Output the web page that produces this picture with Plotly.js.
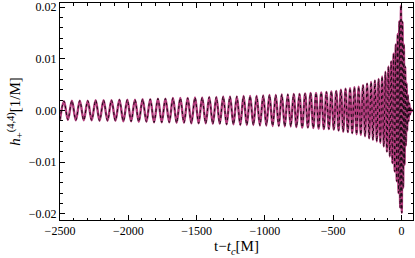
<!DOCTYPE html>
<html>
<head>
<meta charset="utf-8">
<script src="https://cdn.plot.ly/plotly-3.0.1.min.js"></script>
<style>html,body{margin:0;padding:0;background:#fff;}#plot{width:415px;height:258px;}</style>
</head>
<body>
<div id="plot"></div>
<script>
// Times (t - t_c, in M) of successive extrema of h_+^(4,4)
const tExtrema = [
  -2500,-2471,-2442,-2413,-2384,-2355,-2326,-2297,-2268,-2239,-2210,-2181,-2152,-2123,-2094,-2065,-2036,-2007,
  -1979,-1951,-1923,-1895,-1867,-1839,-1811,-1783,-1755,-1728,-1700,-1673,-1646,-1619,-1592,-1565,-1538,-1511,
  -1485,-1459,-1433,-1407,-1381,-1355,-1330,-1305,-1280,-1255,-1230,-1205,-1180,-1156,-1132,-1108,-1084,-1060,-1036,-1012,
  -989,-966,-943,-920,-898,-876,-854,-832,-810,-789,-768,-747,-726,-705,-685,-665,-645,-625,
  -606,-587,-568,-549,-531,-513,-495,-477,-460,-443,-426,-409,-392,-376,-360,-344,-328,-313,
  -297,-281,-266,-251,-236,-222,-208,-194,-180,-167,-154,-141,-129,-117,-106,-95,-85,-75,-66,-57,-49,-41,-34,-27,-21,-15,-9,-3,
  3,8,13,18,23,28,33,38,43,48,53,58,63,68,73,78,85
];
// Values of h_+^(4,4) [1/M] at those extrema
const hExtrema = [
  -0.0018,0.0018,-0.0018,0.0019,-0.0019,0.0019,-0.0019,0.0019,-0.0019,0.0020,-0.0020,0.0020,-0.0020,0.0020,-0.0020,0.0021,-0.0021,0.0021,
  -0.0021,0.0021,-0.0022,0.0022,-0.0022,0.0022,-0.0023,0.0023,-0.0023,0.0023,-0.0023,0.0024,-0.0024,0.0024,-0.0024,0.0024,-0.0025,0.0025,
  -0.0025,0.0025,-0.0025,0.0026,-0.0026,0.0026,-0.0026,0.0027,-0.0027,0.0027,-0.0027,0.0027,-0.0028,0.0028,-0.0028,0.0028,-0.0028,0.0028,-0.0029,0.0029,
  -0.0029,0.0030,-0.0030,0.0030,-0.0030,0.0031,-0.0031,0.0031,-0.0031,0.0032,-0.0032,0.0032,-0.0033,0.0033,-0.0033,0.0034,-0.0034,0.0034,
  -0.0035,0.0035,-0.0036,0.0036,-0.0036,0.0037,-0.0037,0.0038,-0.0039,0.0040,-0.0041,0.0042,-0.0042,0.0043,-0.0044,0.0045,-0.0046,0.0046,
  -0.0047,0.0049,-0.0050,0.0052,-0.0054,0.0055,-0.0057,0.0058,-0.0060,0.0061,-0.0063,0.0066,-0.0070,0.0075,-0.0080,0.0085,-0.0089,0.0095,-0.0102,0.0110,-0.0118,0.0128,-0.0137,0.0148,-0.0160,0.0173,-0.0188,0.0203,
  -0.0198,0.0172,-0.0150,0.0128,-0.0105,0.0085,-0.0068,0.0053,-0.0040,0.0030,-0.0021,0.0014,-0.0008,0.0004,-0.0002,0,0
];
const xTickVals = [-2500,-2000,-1500,-1000,-500,0];
const yTickVals = [-0.02,-0.01,0,0.01,0.02];

const serif = 'Liberation Serif, Times New Roman, serif';

const traces = [
  {x: tExtrema, y: hExtrema, type: 'scatter', mode: 'lines',
   line: {color: 'rgb(178,60,124)', width: 2.4, shape: 'spline', smoothing: 1}, hoverinfo: 'skip'},
  {x: tExtrema, y: hExtrema, type: 'scatter', mode: 'lines',
   line: {color: 'rgb(25,10,20)', width: 1, dash: 'dot', shape: 'spline', smoothing: 1}, hoverinfo: 'skip'}
];

const axisCommon = {
  showgrid: false, zeroline: false, showline: true, linecolor: 'black', linewidth: 1,
  mirror: 'allticks', ticks: 'inside', ticklen: 5, tickwidth: 1, tickcolor: 'black',
  tickfont: {family: serif, size: 12, color: 'black'}
};

const layout = {
  width: 415, height: 258,
  margin: {l: 60, r: 2, t: 3, b: 38},
  paper_bgcolor: 'white', plot_bgcolor: 'white',
  showlegend: false,
  xaxis: Object.assign({}, axisCommon, {
    range: [-2500, 85], tickvals: xTickVals, ticktext: xTickVals.map(v => v < 0 ? '\u2212' + (-v) : String(v)),
    minor: {dtick: 100, tick0: 0, ticks: 'inside', ticklen: 2.5, tickcolor: 'black', tickwidth: 1},
    title: {text: 't\u2212<i>t</i><sub><i>c</i></sub>[M]', font: {family: serif, size: 15, color: 'black'}, standoff: 2}
  }),
  yaxis: Object.assign({}, axisCommon, {
    range: [-0.0212, 0.0208], tickvals: yTickVals, ticktext: yTickVals.map(v => (v < 0 ? '\u2212' : '') + Math.abs(v).toFixed(2)),
    minor: {dtick: 0.002, tick0: 0, ticks: 'inside', ticklen: 2.5, tickcolor: 'black', tickwidth: 1},
    title: {text: '<i>h</i><sub>+</sub><sup>(4,4)</sup>[1/M]', font: {family: serif, size: 15, color: 'black'}, standoff: 4}
  })
};

Plotly.newPlot('plot', traces, layout, {staticPlot: true, displayModeBar: false});
</script>
</body>
</html>
